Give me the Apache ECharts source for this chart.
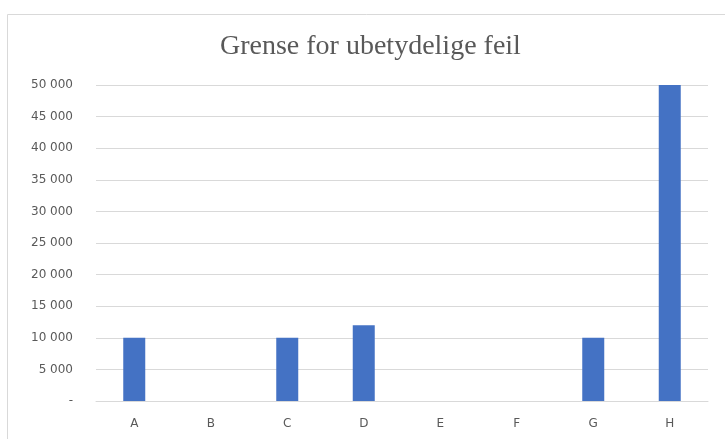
<!DOCTYPE html>
<html>
<head>
<meta charset="utf-8">
<script src="https://cdn.jsdelivr.net/npm/echarts@6/dist/echarts.min.js"></script>
<style>
  html, body { margin: 0; padding: 0; background: #fff; }
  #chart { width: 725px; height: 439px; }
</style>
</head>
<body>
<div id="chart"></div>
<script>
var categories = ['A', 'B', 'C', 'D', 'E', 'F', 'G', 'H'];
var values = [10000, 0, 10000, 12000, 0, 0, 10000, 50000];
var title = 'Grense for ubetydelige feil';

function fmt(v) {
  if (v === 0) return '-';
  return String(v).replace(/\B(?=(\d{3})+(?!\d))/g, ' ');
}

var chartDom = document.getElementById('chart');
var myChart = echarts.init(chartDom);
var option = {
  animation: false,
  graphic: [{
    type: 'rect',
    shape: { x: 7.5, y: 14.5, width: 740, height: 440 },
    style: { fill: 'none', stroke: '#d9d9d9', lineWidth: 1 }
  }],
  title: {
    text: title,
    left: 215,
    top: 28,
    textStyle: {
      fontFamily: 'Liberation Serif',
      fontWeight: 'normal',
      fontSize: 28,
      color: '#595959'
    }
  },
  grid: {
    left: 96,
    right: 17,
    top: 85,
    bottom: 38
  },
  xAxis: {
    type: 'category',
    data: categories,
    axisLine: { lineStyle: { color: '#d9d9d9' } },
    axisTick: { show: false },
    axisLabel: { color: '#595959', fontSize: 12, margin: 17, fontFamily: 'DejaVu Sans' }
  },
  yAxis: {
    type: 'value',
    min: 0,
    max: 50000,
    interval: 5000,
    axisLine: { show: false },
    axisTick: { show: false },
    splitLine: { lineStyle: { color: '#d9d9d9' } },
    axisLabel: { color: '#595959', fontSize: 12, margin: 23, fontFamily: 'DejaVu Sans', formatter: fmt }
  },
  series: [{
    type: 'bar',
    data: values,
    barWidth: 22,
    itemStyle: { color: '#4472c4' }
  }]
};
option && myChart.setOption(option);
</script>
</body>
</html>
